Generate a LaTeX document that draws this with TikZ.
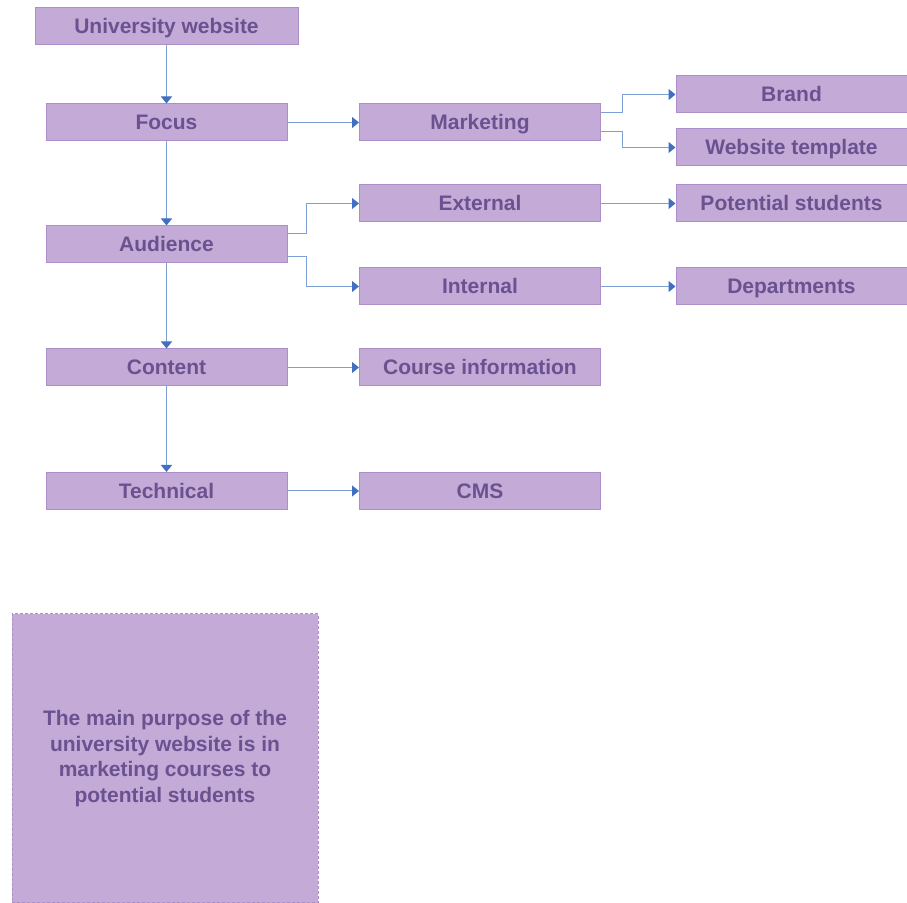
\documentclass[tikz,border=0pt]{standalone}
\usepackage{fontspec}
\setmainfont{Liberation Sans}
\usetikzlibrary{arrows.meta}

\definecolor{cajafill}{RGB}{196,170,215}
\definecolor{cajaborde}{RGB}{172,142,202}
\definecolor{cajatexto}{RGB}{106,82,144}
\definecolor{linea}{RGB}{124,160,214}
\definecolor{punta}{RGB}{66,112,192}

\tikzset{
  caja/.style={draw=cajaborde, fill=cajafill, text=cajatexto, line width=0.5pt,
    font=\fontsize{10.5}{12.8}\selectfont\bfseries, inner sep=0pt,
    text height=7.5pt, text depth=0pt,
    minimum width=120.5pt, minimum height=18.5pt},
  flecha/.style={draw=linea, line width=0.5pt,
    -{Triangle[length=3.5pt,width=5.5pt,color=punta]}}
}

\begin{document}
\begin{tikzpicture}[x=0.5pt, y=-0.5pt]
                 % Marco
                \useasboundingbox (0,0) rectangle (907,903);

                 % Columna principal
                \node[caja, minimum width=131.5pt] (web) at (166.5,26.5) {University website};
                \node[caja] (focus) at (166.5,122.5) {Focus};
                \node[caja] (audience) at (166.5,244.5) {Audience};
                \node[caja] (content) at (166.5,367.5) {Content};
                \node[caja] (technical) at (166.5,491) {Technical};

                 % Segunda columna
                \node[caja] (marketing) at (480,122.5) {Marketing};
                \node[caja] (external) at (480,203.5) {External};
                \node[caja] (internal) at (480,286.5) {Internal};
                \node[caja] (course) at (480,367.5) {Course information};
                \node[caja] (cms) at (480,491) {CMS};

                 % Tercera columna
                \node[caja, minimum width=115.5pt] (brand) at (791.5,94.5) {Brand};
                \node[caja, minimum width=115.5pt] (template) at (791.5,147.5) {Website template};
                \node[caja, minimum width=115.5pt] (students) at (791.5,203.5) {Potential students};
                \node[caja, minimum width=115.5pt] (departments) at (791.5,286.5) {Departments};

                 % Flechas verticales
                \draw[flecha] (web) -- (focus);
                \draw[flecha] (focus) -- (audience);
                \draw[flecha] (audience) -- (content);
                \draw[flecha] (content) -- (technical);

                 % Flechas horizontales
                \draw[flecha] (focus) -- (marketing);
                \draw[flecha] (content) -- (course);
                \draw[flecha] (technical) -- (cms);
                \draw[flecha] (external) -- (students);
                \draw[flecha] (internal) -- (departments);

                 % Ramas
                \draw[flecha] ([yshift=4.75pt]marketing.east) -- ++(21,0) |- (brand.west);
                \draw[flecha] ([yshift=-4.75pt]marketing.east) -- ++(21,0) |- (template.west);
                \draw[flecha] ([yshift=5.25pt]audience.east) -- ++(19,0) |- (external.west);
                \draw[flecha] ([yshift=-6.25pt]audience.east) -- ++(19,0) |- (internal.west);

                 % Nota
                \node[caja, dash pattern=on 1.5pt off 1pt, minimum width=153pt, minimum height=144.5pt,
                  text height=, text depth=, align=center] (nota) at (165,758.5)
                  {The main purpose of the\\ university website is in\\ marketing courses to\\ potential students};
            \end{tikzpicture}
\end{document}
